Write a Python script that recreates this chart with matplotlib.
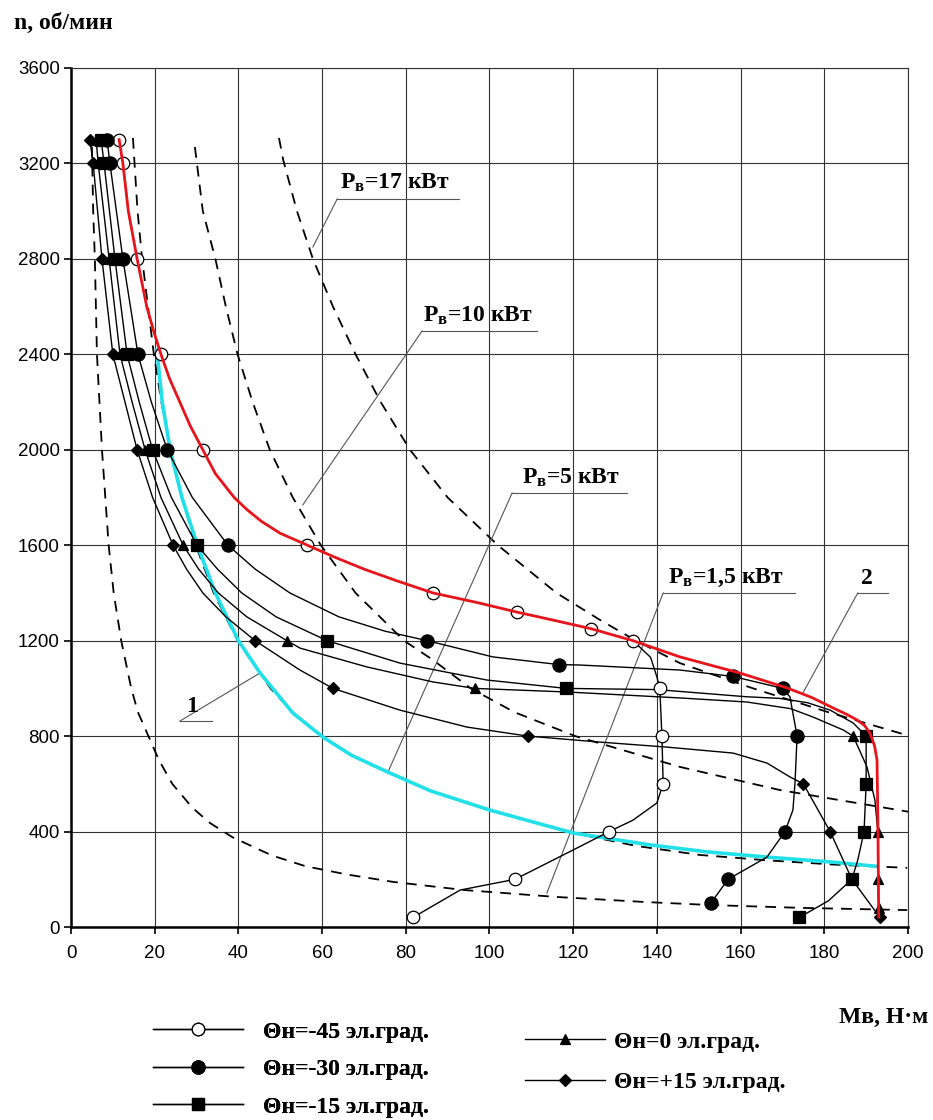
import matplotlib
matplotlib.use("Agg")
import matplotlib.pyplot as plt

plt.rcParams["font.family"] = ["Liberation Sans", "DejaVu Sans"]
plt.rcParams["mathtext.fontset"] = "custom"
plt.rcParams["mathtext.rm"] = "Liberation Serif:bold"
plt.rcParams["mathtext.it"] = "Liberation Serif:bold"
plt.rcParams["mathtext.bf"] = "Liberation Serif:bold"

SERIF = ["Liberation Serif", "DejaVu Serif"]

# constant power curves (dashed)
p17_M = [49.7, 50.7, 54.0, 57.8, 62.6, 68.0, 74.0, 81.0, 90.0, 102.0, 116.0, 126.4, 135.0, 145.5, 163.0, 181.0, 200.5]
p17_n = [3307, 3215, 3000, 2800, 2600, 2400, 2200, 2000, 1800, 1600, 1400, 1287, 1200, 1106, 1000, 900, 800]
p10_M = [29.6, 31.5, 34.5, 37.0, 39.8, 43.4, 47.5, 53.0, 59.7, 68.0, 79.6, 86.5, 95.5, 106.0, 120.5, 145.5, 169.4, 200.5]
p10_n = [3269, 3000, 2800, 2600, 2400, 2200, 2000, 1800, 1600, 1400, 1200, 1119, 1000, 900, 800, 671, 574, 482]
p5_M = [14.8, 15.9, 17.0, 18.4, 19.8, 21.6, 23.8, 26.5, 29.8, 34.1, 39.8, 47.7, 53.0, 60.0, 67.0, 75.6, 86.0, 100.1,
        120.0, 135.0, 150.3, 166.0, 182.0, 199.8]
p5_n = [3307, 3000, 2800, 2600, 2400, 2200, 2000, 1800, 1600, 1400, 1200, 1000, 900, 796, 720, 650, 570, 490,
        394, 340, 302, 280, 262, 248]
p15_M = [5.0, 5.3, 5.7, 6.2, 7.4, 9.0, 10.2, 12.0, 14.4, 16.0, 18.5, 21.0, 24.2, 29.0, 33.2, 38.5, 48.0, 56.0,
         66.0, 77.0, 94.0, 116.0, 137.0, 153.0, 175.0, 199.8]
p15_n = [3270, 3000, 2800, 2400, 2000, 1600, 1400, 1200, 1000, 900, 800, 700, 600, 500, 436, 377, 300, 255,
         220, 189, 155, 126, 105, 92, 80, 71]

# Theta = -45 (open circles)
t45_M = [11.5, 12.4, 13.7, 15.8, 18.1, 19.7, 21.5, 23.5, 26.0, 28.5, 31.5, 34.5, 39.0, 42.0, 45.5, 50.0,
         56.5, 63.0, 70.0, 78.0, 86.5, 97.0, 106.5, 115.5, 124.3, 134.3, 138.5, 140.0, 140.7, 141.2, 141.5,
         140.0, 134.3, 128.6, 120.0, 106.1, 93.0, 81.7]
t45_n = [3300, 3200, 3000, 2800, 2600, 2500, 2400, 2300, 2200, 2100, 2000, 1900, 1800, 1750, 1700, 1650,
         1600, 1550, 1500, 1450, 1400, 1360, 1320, 1285, 1250, 1200, 1130, 1048, 1000, 800, 600,
         520, 448, 400, 323, 200, 155, 40]
t45_mk_M = [11.5, 12.4, 15.8, 21.5, 31.5, 56.5, 86.5, 106.5, 124.3, 134.3, 140.7, 141.2, 141.5, 128.6, 106.1, 81.7]
t45_mk_n = [3300, 3200, 2800, 2400, 2000, 1600, 1400, 1320, 1250, 1200, 1000, 800, 600, 400, 200, 40]

# Theta = -30 (filled circles)
t30_M = [8.6, 9.3, 12.4, 16.0, 19.2, 23.0, 29.0, 37.5, 44.0, 52.3, 64.0, 75.0, 85.1, 100.8, 116.5, 121.6,
         145.5, 158.2, 170.1, 171.8, 173.5, 173.0, 172.5, 170.6, 166.3, 157.0, 152.9]
t30_n = [3300, 3200, 2800, 2400, 2200, 2000, 1800, 1600, 1500, 1400, 1300, 1240, 1200, 1132, 1100, 1098,
         1077, 1050, 1000, 964, 800, 603, 490, 400, 293, 200, 100]
t30_mk_M = [8.6, 9.3, 12.4, 16.0, 23.0, 37.5, 85.1, 116.5, 158.2, 170.1, 173.5, 170.6, 157.0, 152.9]
t30_mk_n = [3300, 3200, 2800, 2400, 2000, 1600, 1200, 1100, 1050, 1000, 800, 400, 200, 100]

# Theta = -15 (squares)
t15_M = [7.2, 7.9, 10.5, 13.4, 16.3, 19.5, 24.0, 30.1, 35.0, 40.8, 49.0, 61.2, 78.6, 99.4, 118.3, 140.0,
         161.4, 169.4, 176.0, 181.4, 186.9, 190.0, 190.0, 189.5, 188.0, 186.6, 181.0, 174.0]
t15_n = [3300, 3200, 2800, 2400, 2200, 2000, 1800, 1600, 1500, 1400, 1300, 1200, 1106, 1035, 1000, 995,
         965, 958, 940, 909, 855, 800, 600, 400, 281, 200, 110, 40]
t15_mk_M = [7.2, 7.9, 10.5, 13.4, 19.5, 30.1, 61.2, 118.3, 190.0, 190.0, 189.5, 186.6, 174.0]
t15_mk_n = [3300, 3200, 2800, 2400, 2000, 1600, 1200, 1000, 800, 600, 400, 200, 40]

# Theta = 0 (triangles)
t0_M = [6.0, 6.5, 9.1, 11.7, 14.6, 17.7, 21.5, 26.8, 30.5, 35.2, 42.0, 51.6, 54.7, 70.7, 86.5, 96.5, 118.5,
        145.5, 161.5, 172.0, 177.3, 184.5, 186.9, 190.2, 192.1, 192.8, 192.8, 193.0]
t0_n = [3300, 3200, 2800, 2400, 2200, 2000, 1800, 1600, 1500, 1400, 1300, 1200, 1169, 1090, 1027, 1000, 985,
        960, 943, 915, 880, 826, 800, 671, 532, 400, 200, 80]
t0_mk_M = [6.0, 6.5, 9.1, 11.7, 17.7, 26.8, 51.6, 96.5, 186.9, 192.8, 192.8, 193.0]
t0_mk_n = [3300, 3200, 2800, 2400, 2000, 1600, 1200, 1000, 800, 400, 200, 80]

# Theta = +15 (diamonds)
tp15_M = [4.5, 5.3, 7.4, 10.0, 12.9, 15.8, 19.5, 24.4, 27.6, 31.5, 37.0, 44.0, 54.7, 62.6, 78.6, 94.6, 109.2,
          126.4, 142.4, 158.2, 166.3, 171.8, 175.0, 181.4, 186.6, 193.3]
tp15_n = [3300, 3200, 2800, 2400, 2200, 2000, 1800, 1600, 1500, 1400, 1300, 1200, 1077, 1000, 909, 838, 800,
          775, 754, 729, 687, 629, 600, 400, 200, 40]
tp15_mk_M = [4.5, 5.3, 7.4, 10.0, 15.8, 24.4, 44.0, 62.6, 109.2, 175.0, 181.4, 186.6, 193.3]
tp15_mk_n = [3300, 3200, 2800, 2400, 2000, 1600, 1200, 1000, 800, 600, 400, 200, 40]

# curve 2 (red envelope) and curve 1 (cyan)
red_M = [11.5, 12.4, 13.7, 15.8, 18.1, 19.7, 21.5, 23.5, 26.0, 28.5, 31.5, 34.5, 39.0, 42.0, 45.5, 50.0,
         56.5, 63.0, 70.0, 78.0, 86.5, 97.0, 106.5, 115.5, 124.3, 134.3, 145.5, 159.9, 171.1, 177.0, 182.1,
         185.5, 187.8, 189.6, 190.9, 192.0, 192.6, 192.8, 193.0]
red_n = [3300, 3200, 3000, 2800, 2600, 2500, 2400, 2300, 2200, 2100, 2000, 1900, 1800, 1750, 1700, 1650,
         1600, 1550, 1500, 1450, 1400, 1360, 1320, 1285, 1250, 1200, 1132, 1064, 1002, 962, 918,
         890, 868, 845, 813, 760, 700, 448, 42]
cyan_M = [20.5, 21.8, 23.7, 26.5, 30.2, 34.5, 40.0, 45.2, 53.0, 60.2, 67.0, 75.6, 86.0, 100.1, 120.0, 138.4,
          152.0, 166.3, 182.0, 192.1]
cyan_n = [2418, 2200, 2000, 1800, 1600, 1400, 1200, 1064, 897, 796, 720, 650, 570, 490, 394, 344,
          315, 293, 272, 255]

legend_labels = ["Θн=-45 эл.град.", "Θн=-30 эл.град.", "Θн=-15 эл.град.",
                 "Θн=0 эл.град.", "Θн=+15 эл.град."]


def main():
    fig = plt.figure(figsize=(9.33, 11.2), dpi=100)
    ax = fig.add_axes([0.0761, 0.1723, 0.8971, 0.767])

    ax.set_xlim(0, 200)
    ax.set_ylim(0, 3600)
    ax.set_xticks(range(0, 201, 20))
    ax.set_yticks(range(0, 3601, 400))
    ax.grid(True, color="#333333", linewidth=0.8)
    ax.set_axisbelow(True)
    ax.tick_params(direction="out", length=5, width=1.2, labelsize=13.5)
    ax.tick_params(axis="x", pad=8)
    ax.tick_params(axis="y", pad=3)
    for s in ["left", "bottom"]:
        ax.spines[s].set_linewidth(1.8)
    for s in ["top", "right"]:
        ax.spines[s].set_linewidth(0.8)
        ax.spines[s].set_color("#333333")

    dash = dict(color="black", lw=1.3, ls=(0, (6, 4.5)))
    for M, n in [(p17_M, p17_n), (p10_M, p10_n), (p5_M, p5_n), (p15_M, p15_n)]:
        ax.plot(M, n, **dash)

    ax.plot(cyan_M, cyan_n, color="#22e0e8", lw=2.6, zorder=3)

    series = [
        (t45_M, t45_n, t45_mk_M, t45_mk_n, "o", 9, "white"),
        (t30_M, t30_n, t30_mk_M, t30_mk_n, "o", 9.5, "black"),
        (t15_M, t15_n, t15_mk_M, t15_mk_n, "s", 8.5, "black"),
        (t0_M, t0_n, t0_mk_M, t0_mk_n, "^", 7, "black"),
        (tp15_M, tp15_n, tp15_mk_M, tp15_mk_n, "D", 6.5, "black"),
    ]
    handles = []
    for M, n, mM, mn, mk, ms, fc in series:
        ax.plot(M, n, color="black", lw=1.0, zorder=4)
        ax.plot(mM, mn, ls="none", marker=mk, ms=ms, mfc=fc, mec="black", mew=0.9, zorder=5)
        h, = ax.plot([], [], color="black", lw=1.0, marker=mk, ms=ms, mfc=fc, mec="black", mew=0.9)
        handles.append(h)

    ax.plot(red_M, red_n, color="#e8141c", lw=2.0, zorder=6)

    # labels with leader lines
    lead = dict(color="#555555", lw=0.8, zorder=2)
    notes = [
        (r"$\mathrm{P_{в}}$=17 кВт", 64.3, 3070, (63.6, 92.7), 3051, (57.8, 2850)),
        (r"$\mathrm{P_{в}}$=10 кВт", 84.1, 2515, (83.9, 111.4), 2498, (55.4, 1769)),
        (r"$\mathrm{P_{в}}$=5 кВт", 107.8, 1836, (105.4, 132.9), 1819, (75.7, 648)),
        (r"$\mathrm{P_{в}}$=1,5 кВт", 142.7, 1417, (141.5, 173.0), 1400, (113.7, 142)),
        ("2", 188.8, 1417, (188.0, 195.2), 1400, (174.9, 981)),
        ("1", 27.5, 880, (26.0, 33.7), 863, (45.2, 1065)),
    ]
    for txt, tx, ty, (u0, u1), uy, (ex, ey) in notes:
        ax.text(tx, ty, txt, family=SERIF, fontweight="bold", fontsize=17,
                va="bottom", ha="left", zorder=7)
        ax.plot([u0, u1], [uy, uy], **lead)
        ax.plot([u0, ex], [uy, ey], **lead)

    fig.text(14 / 933, 1 - 29 / 1120, "n, об/мин", family=SERIF, fontweight="bold",
             fontsize=17, ha="left", va="baseline")
    fig.text(928 / 933, 1 - 1023 / 1120, "Mв, Н·м", family=SERIF, fontweight="bold",
             fontsize=17, ha="right", va="baseline")

    prop = dict(family=SERIF, weight="bold", size=17)
    leg1 = fig.legend(handles[:3], legend_labels[:3], loc="upper left",
                      bbox_to_anchor=(153 / 933, 1 - 1021 / 1120), frameon=False, prop=prop,
                      handlelength=3.8, handletextpad=0.85, labelspacing=0.68, borderpad=0,
                      borderaxespad=0)
    fig.legend(handles[3:], legend_labels[3:], loc="upper left",
               bbox_to_anchor=(525 / 933, 1 - 1031 / 1120), frameon=False, prop=prop,
               handlelength=3.4, handletextpad=0.35, labelspacing=0.82, borderpad=0,
               borderaxespad=0)
    fig.add_artist(leg1)

    fig.savefig("out.png", dpi=100)
    plt.close(fig)


if __name__ == "__main__":
    main()
